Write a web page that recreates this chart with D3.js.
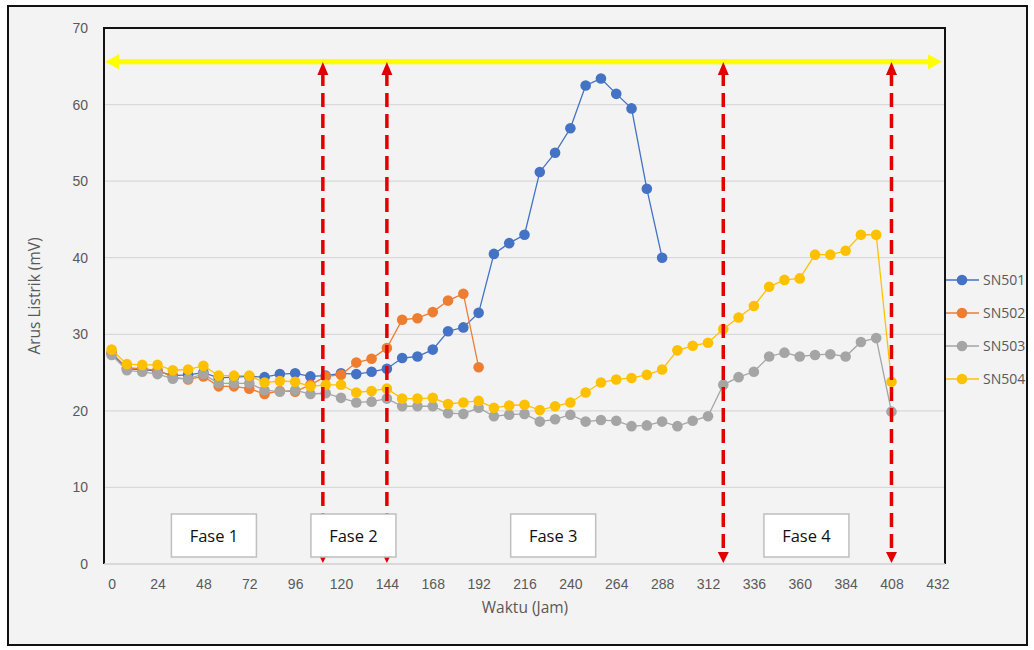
<!DOCTYPE html>
<html>
<head>
<meta charset="utf-8">
<script src="https://cdn.jsdelivr.net/npm/d3@7.9.0/dist/d3.min.js"></script>
<style>
  body { margin: 0; background: #ffffff; }
  svg { display: block; font-family: "Open Sans", sans-serif; }
</style>
</head>
<body>
<svg id="chart" width="1034" height="650"></svg>
<script>
// data, one point every 8 hours starting at 0
const stepHours = 8;
const seriesNames = ['SN501', 'SN502', 'SN503', 'SN504'];
const seriesColors = ['#4472c4', '#ed7d31', '#a5a5a5', '#ffc000'];

const sn501 = [27.5, 25.5, 25.4, 25.2, 24.6, 24.7, 25.0, 24.3, 24.4, 24.5,
  24.4, 24.8, 24.9, 24.5, 24.6, 24.9, 24.8, 25.1, 25.5, 26.9,
  27.1, 28.0, 30.4, 30.9, 32.8, 40.5, 41.9, 43.0, 51.2, 53.7,
  56.9, 62.5, 63.4, 61.4, 59.5, 49.0, 40.0];
const sn502 = [27.6, 25.6, 25.5, 25.3, 24.4, 24.1, 24.5, 23.2, 23.2, 22.9,
  22.2, 22.6, 22.5, 23.4, 24.5, 24.7, 26.3, 26.8, 28.2, 31.9,
  32.1, 32.9, 34.4, 35.3, 25.7];
const sn503 = [27.3, 25.3, 25.1, 24.8, 24.2, 24.2, 24.8, 23.6, 23.6, 23.6,
  22.7, 22.5, 22.7, 22.2, 22.3, 21.7, 21.1, 21.2, 21.6, 20.6,
  20.6, 20.6, 19.7, 19.6, 20.4, 19.3, 19.5, 19.6, 18.6, 18.9,
  19.5, 18.6, 18.8, 18.7, 18.0, 18.1, 18.6, 18.0, 18.7, 19.3,
  23.4, 24.4, 25.1, 27.1, 27.6, 27.1, 27.3, 27.4, 27.1, 29.0,
  29.5, 19.9];
const sn504 = [28.0, 26.1, 26.0, 26.0, 25.3, 25.4, 25.9, 24.6, 24.6, 24.6,
  23.7, 23.9, 23.8, 23.2, 23.4, 23.4, 22.4, 22.6, 22.9, 21.6,
  21.6, 21.7, 20.9, 21.1, 21.3, 20.4, 20.7, 20.8, 20.1, 20.6,
  21.1, 22.4, 23.7, 24.1, 24.3, 24.7, 25.4, 27.9, 28.5, 28.9,
  30.7, 32.2, 33.7, 36.2, 37.1, 37.3, 40.4, 40.4, 40.9, 43.0,
  43.0, 23.8];
const seriesValues = [sn501, sn502, sn503, sn504];

const xTicks = [0, 24, 48, 72, 96, 120, 144, 168, 192, 216, 240, 264, 288, 312, 336, 360, 384, 408, 432];
const yTicks = [0, 10, 20, 30, 40, 50, 60, 70];

// annotations: phase boundaries (hours) and phase labels
const phaseLines = [110.5, 144, 320, 408];
const phaseLabels = ['Fase 1', 'Fase 2', 'Fase 3', 'Fase 4'];
const phaseCenters = [53.5, 126.5, 231, 363.5];
const spanArrowLevel = 65.6;

const svg = d3.select('#chart');
const plot = { left: 104, right: 945, top: 28, bottom: 564 };

// outer frame
svg.append('rect').attr('x', 8).attr('y', 6).attr('width', 1019).attr('height', 639)
  .attr('fill', '#f3f3f3').attr('stroke', '#111').attr('stroke-width', 2);

// category axis: points sit half a step inside the plot edges
const x = d3.scaleLinear().domain([-stepHours / 2, 432 + stepHours / 2]).range([plot.left, plot.right]);
const y = d3.scaleLinear().domain([0, 70]).range([plot.bottom, plot.top]);

// gridlines
svg.append('g').selectAll('line').data(yTicks.slice(1)).join('line')
  .attr('x1', plot.left).attr('x2', plot.right)
  .attr('y1', d => y(d)).attr('y2', d => y(d))
  .attr('stroke', '#d9d9d9').attr('stroke-width', 1.2);

// plot border (left, top, right black) and grey base axis
svg.append('path')
  .attr('d', `M${plot.left},${plot.bottom}V${plot.top}H${plot.right}V${plot.bottom}`)
  .attr('fill', 'none').attr('stroke', '#111').attr('stroke-width', 2);
svg.append('line').attr('x1', plot.left).attr('x2', plot.right)
  .attr('y1', plot.bottom).attr('y2', plot.bottom)
  .attr('stroke', '#d0d0d0').attr('stroke-width', 1.5);

// axes labels
const yAxis = d3.axisLeft(y).tickValues(yTicks).tickSize(0).tickPadding(16);
svg.append('g').attr('transform', `translate(${plot.left},0)`).call(yAxis)
  .call(g => g.select('.domain').remove())
  .selectAll('text').attr('fill', '#595959').attr('font-size', 14);

const xAxis = d3.axisBottom(x).tickValues(xTicks).tickSize(0).tickPadding(15);
svg.append('g').attr('transform', `translate(0,${plot.bottom})`).call(xAxis)
  .call(g => g.select('.domain').remove())
  .selectAll('text').attr('fill', '#595959').attr('font-size', 14);

svg.append('text').attr('x', 525).attr('y', 613).attr('text-anchor', 'middle')
  .attr('fill', '#595959').attr('font-size', 15.5).text('Waktu (Jam)');
svg.append('text').attr('transform', 'translate(40,296) rotate(-90)').attr('text-anchor', 'middle')
  .attr('fill', '#595959').attr('font-size', 15.5).text('Arus Listrik (mV)');

// series
const line = d3.line().x((d, i) => x(i * stepHours)).y(d => y(d));
seriesValues.forEach((vals, s) => {
  const g = svg.append('g');
  g.append('path').attr('d', line(vals)).attr('fill', 'none')
    .attr('stroke', seriesColors[s]).attr('stroke-width', 1.3);
  g.selectAll('circle').data(vals).join('circle')
    .attr('cx', (d, i) => x(i * stepHours)).attr('cy', d => y(d))
    .attr('r', 5.3).attr('fill', seriesColors[s]);
});

// yellow span arrow
const yY = y(spanArrowLevel);
const yl = svg.append('g').attr('fill', '#ffff00');
yl.append('rect').attr('x', plot.left + 12).attr('y', yY - 2.6)
  .attr('width', plot.right - plot.left - 27).attr('height', 5.2);
yl.append('path').attr('d', `M${plot.left + 1},${yY}l14,-7.5v15z`);
yl.append('path').attr('d', `M${plot.right - 3},${yY}l-14,-7.5v15z`);

// red dashed phase arrows
const redTop = 62, redBottom = 563;
const red = svg.append('g');
phaseLines.forEach(h => {
  const cx = x(h);
  red.append('line').attr('x1', cx).attr('x2', cx).attr('y1', redTop + 10).attr('y2', redBottom - 8)
    .attr('stroke', '#e00000').attr('stroke-width', 3.5).attr('stroke-dasharray', '14,7');
  red.append('path').attr('d', `M${cx},${redTop}l-5.5,13h11z`).attr('fill', '#e00000');
  red.append('path').attr('d', `M${cx},${redBottom}l-5.5,-11h11z`).attr('fill', '#e00000');
});

// phase boxes
const boxW = 85, boxH = 43, boxTop = 514;
phaseLabels.forEach((lab, i) => {
  const cx = x(phaseCenters[i]);
  svg.append('rect').attr('x', cx - boxW / 2).attr('y', boxTop).attr('width', boxW).attr('height', boxH)
    .attr('fill', '#ffffff').attr('stroke', '#bfbfbf').attr('stroke-width', 1.5);
  svg.append('text').attr('x', cx).attr('y', boxTop + boxH / 2 + 6).attr('text-anchor', 'middle')
    .attr('fill', '#111').attr('font-size', 16.5).text(lab);
});

// legend
const legend = svg.append('g');
seriesNames.forEach((name, i) => {
  const ly = 280 + i * 33;
  legend.append('line').attr('x1', 946).attr('x2', 979).attr('y1', ly).attr('y2', ly)
    .attr('stroke', seriesColors[i]).attr('stroke-width', 1.3);
  legend.append('circle').attr('cx', 962).attr('cy', ly).attr('r', 5.3).attr('fill', seriesColors[i]);
  legend.append('text').attr('x', 983).attr('y', ly + 5).attr('fill', '#595959')
    .attr('font-size', 14).text(name);
});
</script>
</body>
</html>
